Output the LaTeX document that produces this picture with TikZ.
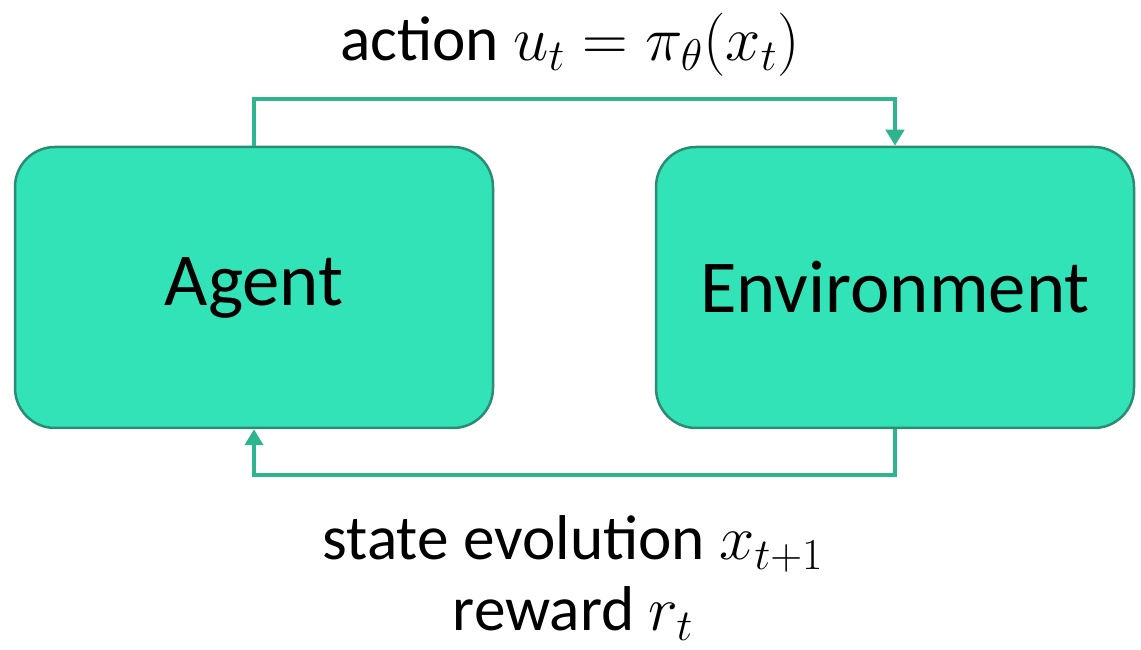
\documentclass[tikz,border=0pt]{standalone}
\usepackage{fix-cm}
\usepackage{fontspec}
\setmainfont{Carlito}
\usetikzlibrary{arrows.meta}

\definecolor{boxfill}{HTML}{33E3B8}
\definecolor{boxline}{HTML}{2A8C72}
\definecolor{loopline}{HTML}{2EB48E}

\begin{document}
\begin{tikzpicture}[x=1cm,y=1cm,
  block/.style={draw=boxline, fill=boxfill, line width=0.05cm, rounded corners=0.8cm,
    minimum width=9.56cm, minimum height=5.62cm, inner sep=0pt, font=\fontsize{42.5}{50}\selectfont},
  flow/.style={draw=loopline, line width=0.08cm, -{Triangle[width=0.36cm,length=0.32cm]}},
  lbl/.style={align=center, inner sep=1pt, font=\fontsize{36}{44}\selectfont}]
\useasboundingbox (0,0) rectangle (22.82,13);

\node[block] (agent) at (5.08,7.25) {Agent};
\node[block] (env) at (17.9,7.25) {Environment};

\draw[flow] (agent.north) -- ++(0,0.94) -| (env.north);
\draw[flow] (env.south) -- ++(0,-0.92) -| (agent.south);

\node[lbl] (act) at (11.4,12.1) {action $u_t = \pi_\theta(x_t)$};
\node[lbl] (obs) at (11.46,1.44) {state evolution $x_{t+1}$\\[-0.12cm]reward $r_t$};
\end{tikzpicture}
\end{document}
